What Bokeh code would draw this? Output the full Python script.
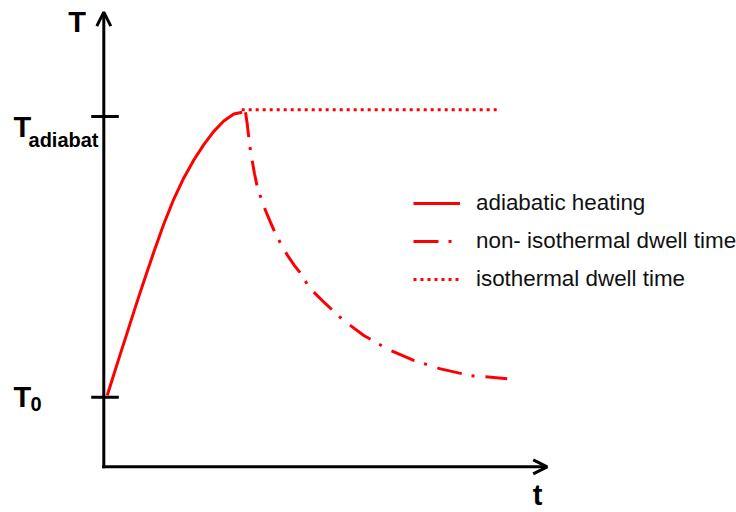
from bokeh.plotting import figure
from bokeh.models import Range1d, Label, Legend, LegendItem, Arrow, OpenHead
from bokeh.embed import file_html
from bokeh.resources import INLINE

# ---------------- data (t in arbitrary time units, T normalised: T0 = 0, T_adiabat = 1)
heat_t = [0.077, 0.226, 0.377, 0.528, 0.677, 0.828, 0.979, 1.128, 1.353,
          1.579, 1.804, 2.030, 2.255, 2.481, 2.706, 2.932, 3.121]
heat_T = [0.006, 0.081, 0.156, 0.230, 0.304, 0.377, 0.448, 0.517, 0.617,
          0.706, 0.781, 0.845, 0.900, 0.947, 0.984, 1.009, 1.015]

dwell_t = [3.196, 3.234, 3.270, 3.308, 3.354, 3.399, 3.460, 3.550, 3.647,
           3.760, 3.873, 4.001, 4.143, 4.301, 4.475, 4.623, 5.000, 5.413,
           5.864, 6.391, 6.991, 7.594, 8.270, 9.098]
dwell_T = [1.015, 0.974, 0.926, 0.879, 0.836, 0.796, 0.751, 0.707, 0.665,
           0.623, 0.582, 0.544, 0.505, 0.469, 0.434, 0.392, 0.333, 0.273,
           0.220, 0.172, 0.131, 0.101, 0.077, 0.066]

iso_t = [3.11, 8.90]
iso_T = [1.024, 1.024]

tick_values = [0.0, 1.0]          # T0, T_adiabat
legend_labels = ["adiabatic heating", "non- isothermal dwell time", "isothermal dwell time"]

axis_t_end = 10.0
axis_T_bottom = -0.248
axis_T_top = 1.372

# ---------------- layout
W, H = 736, 512
PX_T = 44.34      # pixels per t unit
PX_Y = 280.7      # pixels per T unit
ORIGIN_X = 103.3  # pixels from frame left to t = 0
ORIGIN_Y = 396.7  # pixels from frame top to T = 0

p = figure(width=W, height=H, output_backend="svg", toolbar_location=None,
           x_range=Range1d(-ORIGIN_X / PX_T, (W - ORIGIN_X) / PX_T),
           y_range=Range1d((ORIGIN_Y - H) / PX_Y, ORIGIN_Y / PX_Y),
           min_border=0)
p.axis.visible = False
p.grid.visible = False
p.outline_line_color = None
p.background_fill_color = "white"

RED = "#ff0000"
LW = 3

# axes as arrows
p.add_layout(Arrow(end=OpenHead(size=14, line_width=LW, line_color="black"),
                   x_start=0, y_start=axis_T_bottom, x_end=0, y_end=axis_T_top,
                   line_width=LW, line_color="black", line_cap="square"))
p.add_layout(Arrow(end=OpenHead(size=14, line_width=LW, line_color="black"),
                   x_start=0, y_start=axis_T_bottom, x_end=axis_t_end, y_end=axis_T_bottom,
                   line_width=LW, line_color="black", line_cap="square"))

# ticks
tick_half_left = 12.6 / PX_T
tick_half_right = 15.0 / PX_T
p.segment(x0=[-tick_half_left] * len(tick_values), y0=tick_values,
          x1=[tick_half_right] * len(tick_values), y1=tick_values,
          line_color="black", line_width=LW)

# curves
r_heat = p.line(heat_t, heat_T, line_color=RED, line_width=LW, line_join="round")
r_dwell = p.line(dwell_t, dwell_T, line_color=RED, line_width=LW, line_dash="25 10 3 11")
r_iso = p.line(iso_t, iso_T, line_color=RED, line_width=LW, line_dash="3 4")

legend = Legend(items=[LegendItem(label=legend_labels[0], renderers=[r_heat]),
                       LegendItem(label=legend_labels[1], renderers=[r_dwell]),
                       LegendItem(label=legend_labels[2], renderers=[r_iso])],
                location=(413, 218), glyph_width=47, glyph_height=30, label_height=30,
                spacing=8, padding=0, margin=0, label_standoff=16,
                border_line_alpha=0, background_fill_alpha=0,
                label_text_font="Liberation Sans", label_text_font_size="22.4px",
                label_text_color="#111111")
p.add_layout(legend)

FONT = "Liberation Sans"


def lab(x, y, text, size, align="left"):
    p.add_layout(Label(x=x, y=y, text=text, text_font=FONT, text_font_style="bold",
                       text_font_size=size, text_align=align, text_baseline="alphabetic",
                       text_color="black"))


lab(-0.604, 1.335, "T", "29px", "center")
lab(9.781, -0.347, "t", "29px", "center")
lab(-2.037, 0.962, "T", "29px")
lab(-1.698, 0.918, "adiabat", "20px")
lab(-2.037, 0.0, "T", "29px")
lab(-1.653, -0.026, "0", "20px")

open("out.html", "w").write(file_html(p, INLINE))
